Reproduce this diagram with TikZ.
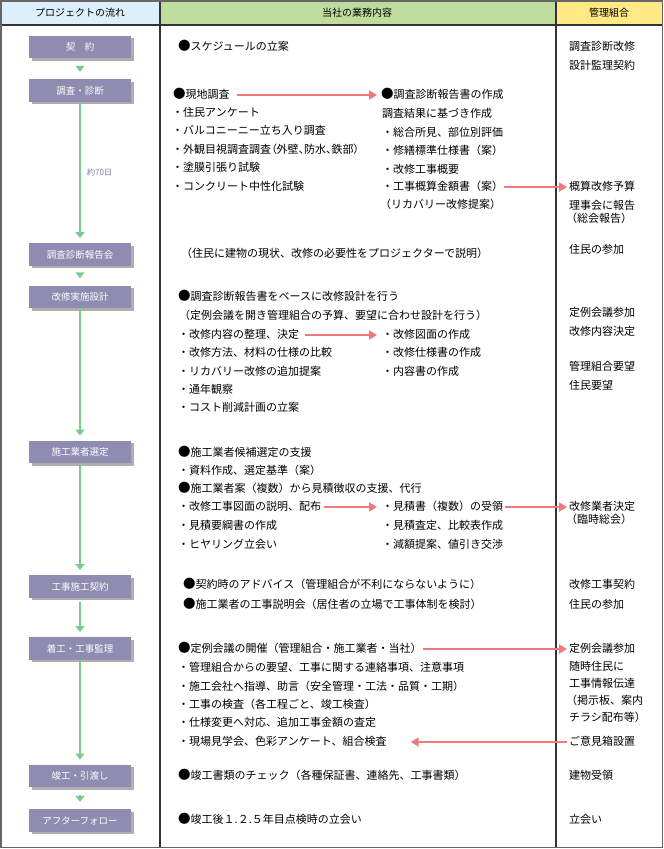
\documentclass[tikz,border=0pt]{standalone}
\usepackage{fontspec}
\setmainfont{Noto Sans CJK JP}
\newfontfamily\pfont{Noto Sans CJK JP}[RawFeature=+palt]
\usetikzlibrary{arrows.meta,shadows}
\definecolor{hdrblue}{HTML}{DCEFFB}
\definecolor{hdrgreen}{HTML}{BEDC9C}
\definecolor{hdryellow}{HTML}{FFE985}
\definecolor{boxc}{HTML}{8F8BB1}
\definecolor{gline}{HTML}{7DCB8C}
\definecolor{rline}{HTML}{EE7B7B}
\definecolor{daycol}{HTML}{7A76A0}
\newcommand\bdot{{\fontsize{12.5}{12}\selectfont ●}}
\begin{document}
\begin{tikzpicture}[x=1pt,y=-1pt,
  hdr/.style={inner sep=0pt,font=\fontsize{10}{11}\selectfont},
  stage/.style={rectangle,fill=boxc,minimum width=102pt,minimum height=22.5pt,inner sep=0pt,
    text=white,font=\fontsize{9.5}{10}\selectfont,
    drop shadow={shadow xshift=2.5pt,shadow yshift=-2.5pt,fill=black!70,opacity=0.45}},
  tx/.style={anchor=west,inner sep=0pt,text height=9pt,text depth=2.5pt,font=\fontsize{11}{12}\selectfont},
  garr/.style={draw=gline,line width=1.8pt,-{Triangle[length=6pt,width=9pt]},gline},
  rarr/.style={draw=rline,line width=2pt,-{Triangle[length=8pt,width=9pt]},rline},
  rule/.style={draw=black!80,line width=1.2pt}]
\useasboundingbox (0,0) rectangle (664,849);
% header
\fill[hdrblue] (0,0) rectangle (160,25);
\fill[hdrgreen] (160,0) rectangle (556,25);
\fill[hdryellow] (556,0) rectangle (663,25);
\draw[rule] (0,25) -- (663,25);
\draw[rule] (160,0) -- (160,848);
\draw[rule] (556,0) -- (556,848);
\draw[draw=black!60,line width=1.5pt] (0.75,0.75) rectangle (662.25,847.25);
\node[hdr] (h1) at (80,13) {プロジェクトの流れ};
\node[hdr] (h2) at (357,13) {当社の業務内容};
\node[hdr] (h3) at (609,13) {管理組合};

% stages
\node[stage] (b1) at (80,47) {契　約};
\node[stage] (b2) at (80,90.5) {調査・診断};
\node[stage] (b3) at (80,254.5) {調査診断報告会};
\node[stage] (b4) at (80,297) {改修実施設計};
\node[stage] (b5) at (80,452) {施工業者選定};
\node[stage] (b6) at (80,586.5) {工事施工契約};
\node[stage] (b7) at (80,648.5) {着工・工事監理};
\node[stage] (b8) at (80,776) {竣工・引渡し};
\node[stage] (b9) at (80,820.5) {アフターフォロー};

\draw[garr,shorten <=7.75pt,shorten >=7.25pt] (b1) -- (b2);
\draw[garr,shorten >=5pt] (b2) -- (b3);
\draw[garr,shorten <=7.25pt,shorten >=7.25pt] (b3) -- (b4);
\draw[garr,shorten >=5pt] (b4) -- (b5);
\draw[garr,shorten >=5pt] (b5) -- (b6);
\draw[garr,shorten <=4pt,shorten >=5pt] (b6) -- (b7);
\draw[garr,shorten >=5pt] (b7) -- (b8);
\draw[garr,shorten <=7.75pt,shorten >=7.25pt] (b8) -- (b9);
\node[anchor=west,inner sep=0pt,text=daycol,font=\fontsize{8}{9}\selectfont] (d70) at (87,172) {約70日};

% section 1
\node[tx] (m1) at (178,47) {\bdot スケジュールの立案};
\node[tx] (r1a) at (569,47) {調査診断改修};
\node[tx] (r1b) at (569,66) {設計監理契約};

% section 2
\node[tx] (m2a) at (173,95) {\bdot 現地調査};
\node[tx] (m2b) at (172,113) {・住民アンケート};
\node[tx] (m2c) at (172,131) {・バルコニーニー立ち入り調査};
\node[tx] (m2d) at (172,150) {・外観目視調査調査{\pfont（}外壁{\pfont 、}防水{\pfont 、}鉄部{\pfont ）}};
\node[tx] (m2e) at (172,168) {・塗膜引張り試験};
\node[tx] (m2f) at (172,187) {・コンクリート中性化試験};
\node[tx] (n2a) at (381,95) {\bdot 調査診断報告書の作成};
\node[tx] (n2b) at (382,114) {調査結果に基づき作成};
\node[tx] (n2c) at (382,133) {・総合所見、部位別評価};
\node[tx] (n2d) at (382,151) {・修繕標準仕様書（案）};
\node[tx] (n2e) at (382,170) {・改修工事概要};
\node[tx] (n2f) at (382,187) {・工事概算金額書（案）};
\node[tx] (n2g) at (380,205) {（リカバリー改修提案）};
\node[tx] (r2a) at (569,187) {概算改修予算};
\node[tx] (r2b) at (569,206) {理事会に報告};
\node[tx] (r2c) at (566,219) {（総会報告）};
\draw[rarr,shorten <=7pt,shorten >=4pt] (m2a) -- (n2a);
\draw[rarr,shorten <=1pt,shorten >=2pt] (n2f) -- (r2a);

% section 3
\node[tx] (m3) at (181,254) {（住民に建物の現状、改修の必要性をプロジェクターで説明）};
\node[tx] (r3) at (569,250) {住民の参加};

% section 4
\node[tx] (m4a) at (178,297) {\bdot 調査診断報告書をベースに改修設計を行う};
\node[tx] (m4b) at (179,316) {（定例会議を開き管理組合の予算、要望に合わせ設計を行う）};
\node[tx] (m4c) at (178,335) {・改修内容の整理、決定};
\node[tx] (m4d) at (178,353) {・改修方法、材料の仕様の比較};
\node[tx] (m4e) at (178,372) {・リカバリー改修の追加提案};
\node[tx] (m4f) at (178,390) {・通年観察};
\node[tx] (m4g) at (178,408) {・コスト削減計画の立案};
\node[tx] (n4a) at (382,335) {・改修図面の作成};
\node[tx] (n4b) at (382,353) {・改修仕様書の作成};
\node[tx] (n4c) at (382,372) {・内容書の作成};
\node[tx] (r4a) at (569,313) {定例会議参加};
\node[tx] (r4b) at (569,332) {改修内容決定};
\node[tx] (r4c) at (569,367) {管理組合要望};
\node[tx] (r4d) at (569,386) {住民要望};
\draw[rarr,shorten <=6pt,shorten >=5pt] (m4c) -- (n4a);

% section 5
\node[tx] (m5a) at (178,453) {\bdot 施工業者候補選定の支援};
\node[tx] (m5b) at (178,471) {・資料作成、選定基準（案）};
\node[tx] (m5c) at (178,489) {\bdot 施工業者案（複数）から見積徴収の支援、代行};
\node[tx] (m5d) at (178,507) {・改修工事図面の説明、配布};
\node[tx] (m5e) at (178,526) {・見積要綱書の作成};
\node[tx] (m5f) at (178,545) {・ヒヤリング立会い};
\node[tx] (n5a) at (382,507) {・見積書（複数）の受領};
\node[tx] (n5b) at (382,526) {・見積査定、比較表作成};
\node[tx] (n5c) at (382,545) {・減額提案、値引き交渉};
\node[tx] (r5a) at (569,507) {改修業者決定};
\node[tx] (r5b) at (566,520) {（臨時総会）};
\draw[rarr,shorten <=3pt,shorten >=5pt] (m5d) -- (n5a);
\draw[rarr,shorten <=2pt,shorten >=2pt] (n5a) -- (r5a);

% section 6
\node[tx] (m6a) at (183,585) {\bdot 契約時のアドバイス（管理組合が不利にならないように）};
\node[tx] (m6b) at (183,605) {\bdot 施工業者の工事説明会（居住者の立場で工事体制を検討）};
\node[tx] (r6a) at (569,585) {改修工事契約};
\node[tx] (r6b) at (569,605) {住民の参加};

% section 7
\node[tx] (m7a) at (178,649) {\bdot 定例会議の開催（管理組合・施工業者・当社）};
\node[tx] (m7b) at (178,668) {・管理組合からの要望、工事に関する連絡事項、注意事項};
\node[tx] (m7c) at (178,687) {・施工会社へ指導、助言（安全管理・工法・品質・工期）};
\node[tx] (m7d) at (178,705) {・工事の検査（各工程ごと、竣工検査）};
\node[tx] (m7e) at (178,723) {・仕様変更へ対応、追加工事金額の査定};
\node[tx] (m7f) at (178,742) {・現場見学会、色彩アンケート、組合検査};
\node[tx] (r7a) at (569,649) {定例会議参加};
\node[tx] (r7b) at (569,667) {随時住民に};
\node[tx] (r7c) at (569,684) {工事情報伝達};
\node[tx] (r7d) at (566,701) {（掲示板、案内};
\node[tx] (r7e) at (569,718) {チラシ配布等）};
\node[tx] (r7f) at (569,742) {ご意見箱設置};
\draw[rarr,shorten <=1pt,shorten >=2pt] (m7a) -- (r7a);
\draw[rarr,shorten <=2pt,shorten >=24pt] (r7f) -- (m7f);

% section 8
\node[tx] (m8) at (178,776) {\bdot 竣工書類のチェック（各種保証書、連絡先、工事書類）};
\node[tx] (r8) at (569,776) {建物受領};

% section 9
\node[tx] (m9) at (178,820) {\bdot 竣工後１.２.５年目点検時の立会い};
\node[tx] (r9) at (569,820) {立会い};
\end{tikzpicture}
\end{document}
